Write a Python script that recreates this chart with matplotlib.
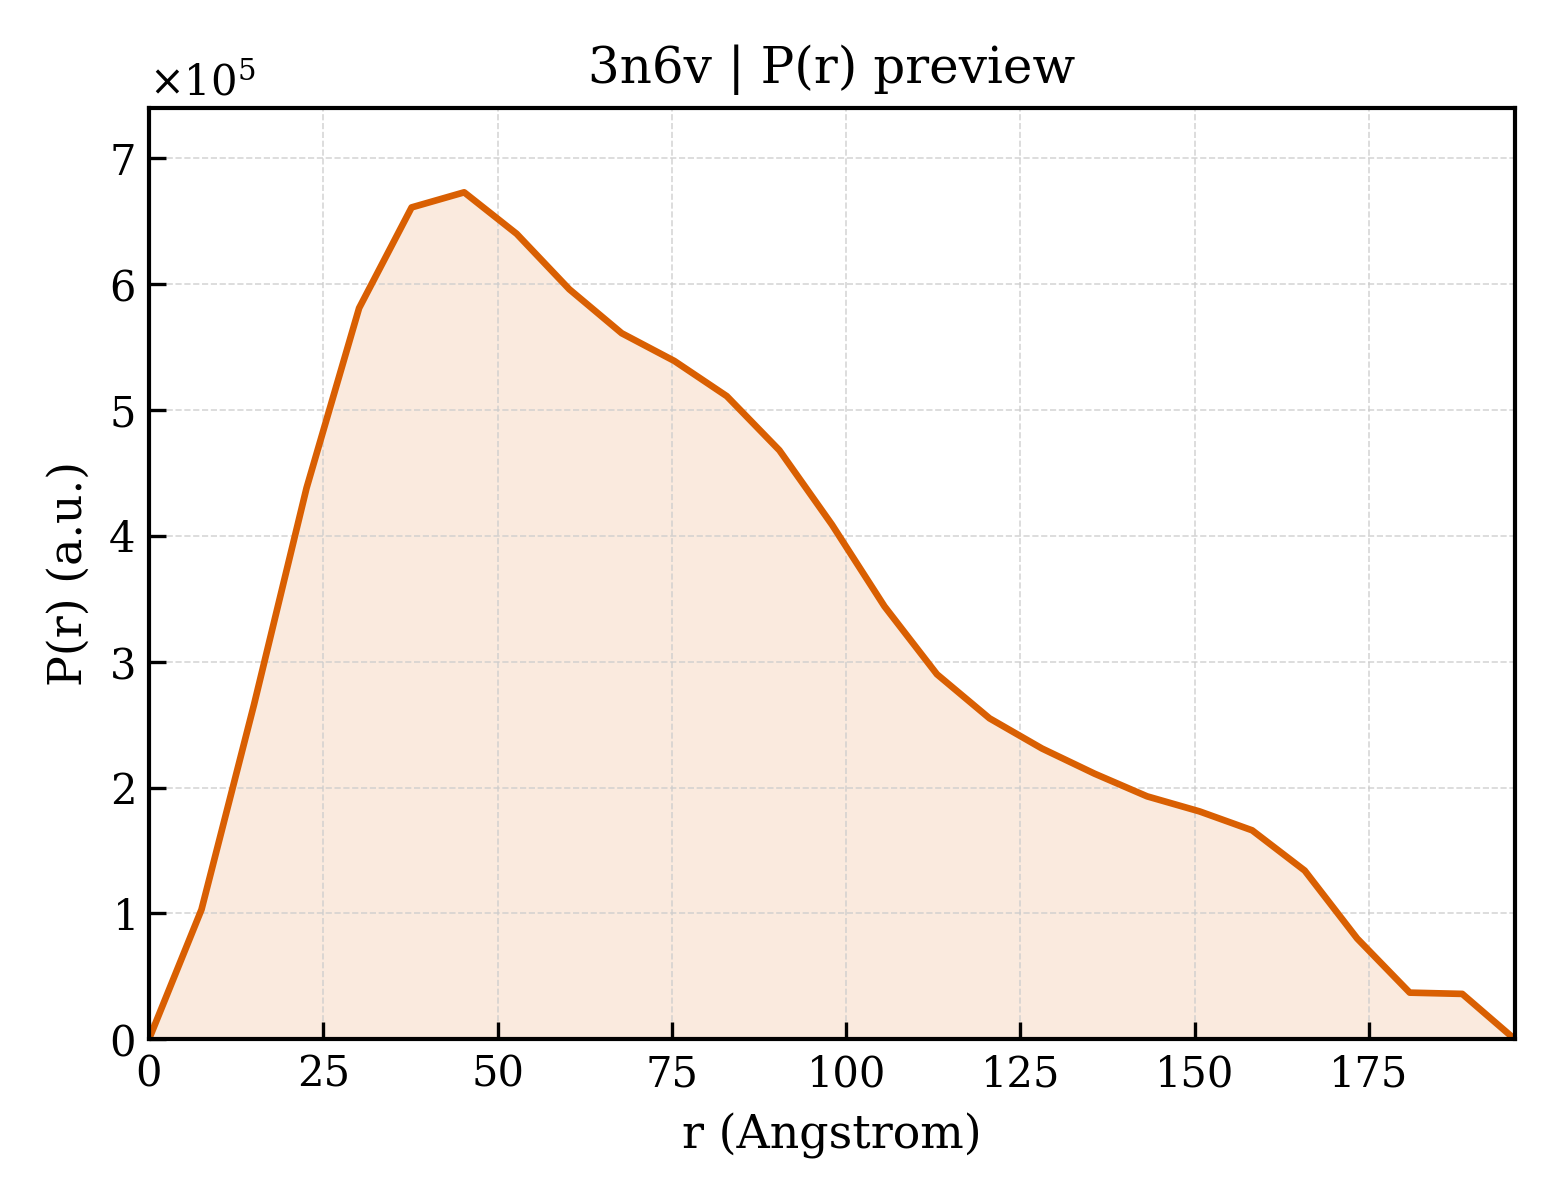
import matplotlib
matplotlib.use("Agg")
import matplotlib.pyplot as plt
from matplotlib.ticker import ScalarFormatter

# P(r) curve
r = [0.0, 7.53, 15.07, 22.6, 30.14, 37.67, 45.21, 52.74, 60.28, 67.81,
     75.35, 82.88, 90.42, 97.95, 105.49, 113.02, 120.56, 128.09, 135.63,
     143.16, 150.7, 158.23, 165.77, 173.3, 180.84, 188.37, 195.9]
pr = [0.0, 1.03e5, 2.66e5, 4.38e5, 5.81e5, 6.61e5, 6.73e5, 6.40e5, 5.96e5,
      5.61e5, 5.39e5, 5.11e5, 4.68e5, 4.09e5, 3.44e5, 2.90e5, 2.55e5,
      2.31e5, 2.11e5, 1.93e5, 1.81e5, 1.66e5, 1.34e5, 0.80e5, 0.37e5,
      0.36e5, 0.0]

plt.rcParams['font.family'] = 'DejaVu Serif'
plt.rcParams['mathtext.fontset'] = 'dejavuserif'

fig = plt.figure(figsize=(5.2, 4), dpi=300)
ax = fig.add_axes([0.0955, 0.134, 0.8755, 0.776])

color = '#d95f02'
ax.plot(r, pr, color=color, lw=1.6)
ax.fill_between(r, pr, 0, color=color, alpha=0.13, lw=0)

ax.set_xlim(0, r[-1])
ax.set_ylim(0, 7.4e5)

fmt = ScalarFormatter(useMathText=True)
fmt.set_powerlimits((0, 0))
ax.yaxis.set_major_formatter(fmt)

ax.tick_params(direction='in', length=4, width=0.8, labelsize=10)
for s in ax.spines.values():
    s.set_linewidth(1.0)

ax.grid(True, ls='--', lw=0.4, color='#cccccc', alpha=0.8)

ax.set_xlabel("r (Angstrom)", fontsize=11)
ax.set_ylabel("P(r) (a.u.)", fontsize=11)
ax.set_title("3n6v | P(r) preview", fontsize=12)

fig.savefig("out.png", dpi=300)
